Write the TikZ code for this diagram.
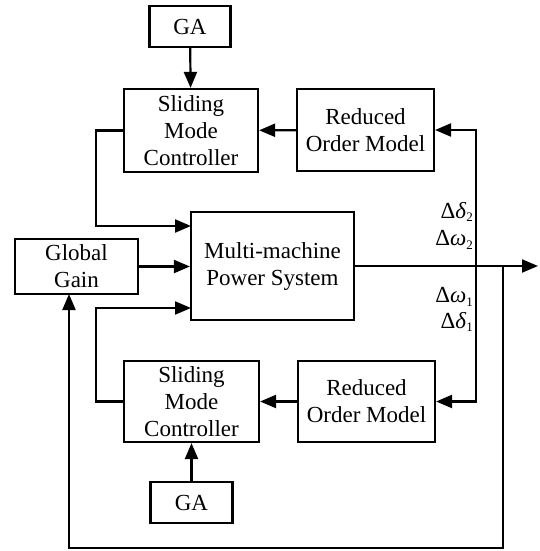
\documentclass[tikz,border=0pt]{standalone}
\usepackage{fontspec}
\setmainfont{Liberation Serif}
\usetikzlibrary{arrows.meta}
\begin{document}
\begin{tikzpicture}[x=1pt,y=-1pt,
  box/.style={draw,line width=2.2pt,rectangle,align=center,inner sep=0pt,font=\fontsize{23}{27}\selectfont},
  arr/.style={line width=2.2pt,-{Triangle[length=16pt,width=13pt]}},
  lab/.style={font=\fontsize{23}{26}\selectfont,anchor=east,inner sep=0pt}]
\useasboundingbox (0,0) rectangle (539,551);
\node[box,minimum width=81pt,minimum height=41pt] (GAt) at (190,26.5) {GA};
\node[box,minimum width=134pt,minimum height=83pt] (SMCt) at (191,130.5) {Sliding\\Mode\\Controller};
\node[box,minimum width=137pt,minimum height=82pt] (ROMt) at (365.5,130) {Reduced\\Order Model};
\node[box,minimum width=163pt,minimum height=108pt] (MPS) at (272.5,266) {Multi-machine\\Power System};
\node[box,minimum width=123pt,minimum height=55pt] (GG) at (76.5,266.5) {Global\\Gain};
\node[box,minimum width=135pt,minimum height=81pt] (SMCb) at (191.5,401.5) {Sliding\\Mode\\Controller};
\node[box,minimum width=137pt,minimum height=81pt] (ROMb) at (366.5,401.5) {Reduced\\Order Model};
\node[box,minimum width=82pt,minimum height=41pt] (GAb) at (191.5,502.5) {GA};
\coordinate (out) at (538,266);
\coordinate (split) at (476,266);
\coordinate (ret) at (503,266);
\coordinate (retc) at (503,548);
\coordinate (retl) at (69,548);
\coordinate (ggin) at (69,294);
\coordinate (mpsin1) at (191,226);
\coordinate (mpsin3) at (191,308);
\draw[arr] (GAt) -- (SMCt);
\draw[arr] (ROMt) -- (SMCt);
\draw[arr] (SMCt.west) -- ++(-27,0) |- (mpsin1);
\draw[arr] (GG.east) -- (GG.east -| MPS.west);
\draw[arr] (MPS.east) -- (out);
\draw[arr] (split) |- (ROMt.east);
\draw[arr] (split) |- (ROMb.east);
\draw[arr] (ret) -- (retc) -- (retl) -- (ggin);
\draw[arr] (SMCb.west) -- ++(-27,0) |- (mpsin3);
\draw[arr] (ROMb) -- (SMCb);
\draw[arr] (GAb) -- (SMCb);
\node[lab] (d2) at (473,212) {Δ\textit{δ}\raisebox{-0.35ex}{\fontsize{13}{13}\selectfont 2}};
\node[lab] (w2) at (473,240) {Δ\textit{ω}\raisebox{-0.35ex}{\fontsize{13}{13}\selectfont 2}};
\node[lab] (w1) at (473,297) {Δ\textit{ω}\raisebox{-0.35ex}{\fontsize{13}{13}\selectfont 1}};
\node[lab] (d1) at (473,322) {Δ\textit{δ}\raisebox{-0.35ex}{\fontsize{13}{13}\selectfont 1}};
\end{tikzpicture}
\end{document}
